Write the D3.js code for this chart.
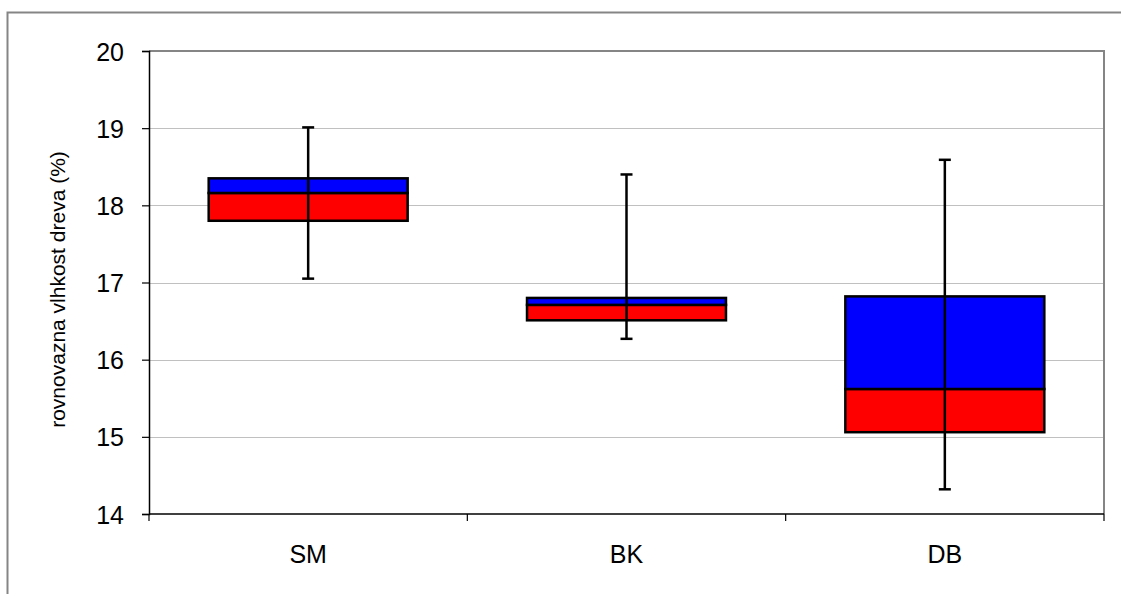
<!DOCTYPE html>
<html>
<head>
<meta charset="utf-8">
<script src="https://cdn.jsdelivr.net/npm/d3@7"></script>
<style>
	body { margin: 0; background: #fff; }
	svg text { font-family: Arial, "Liberation Sans", sans-serif; fill: #000; }
</style>
</head>
<body>
<script>
// Data
const categories = ["SM", "BK", "DB"];
const whiskerLow = [17.05, 16.27, 14.32];
const boxLow = [17.80, 16.51, 15.06];
const boxMid = [18.16, 16.71, 15.62];
const boxHigh = [18.35, 16.80, 16.82];
const whiskerHigh = [19.01, 18.40, 18.59];
const yTicks = [14, 15, 16, 17, 18, 19, 20];

const w = 1121;
const h = 594;
const plot = { left: 149, top: 51, right: 1104, bottom: 514 };

const svg = d3.select("body").append("svg").attr("width", w).attr("height", h);

// outer chart border
svg.append("rect")
	.attr("x", 7.5)
	.attr("y", 12.5)
	.attr("width", w + 20)
	.attr("height", h + 20)
	.attr("fill", "none")
	.attr("stroke", "#858585")
	.attr("stroke-width", 2);

const xScale = d3.scaleBand()
	.domain(categories)
	.range([plot.left, plot.right])
	.paddingInner(0)
	.paddingOuter(0);

const yScale = d3.scaleLinear().domain([14, 20]).range([plot.bottom, plot.top]);

// gridlines
svg.append("g")
	.selectAll("line")
	.data(yTicks.slice(1, -1))
	.enter()
	.append("line")
	.attr("x1", plot.left)
	.attr("x2", plot.right)
	.attr("y1", (d) => Math.round(yScale(d)) + 0.5)
	.attr("y2", (d) => Math.round(yScale(d)) + 0.5)
	.attr("stroke", "#c0c0c0")
	.attr("stroke-width", 1);

// plot frame top + right (gray)
svg.append("path")
	.attr("d", `M${plot.left},${plot.top} H${plot.right} V${plot.bottom}`)
	.attr("fill", "none")
	.attr("stroke", "#858585")
	.attr("stroke-width", 2);

// y axis
const yAxis = d3.axisLeft(yScale).tickValues(yTicks).tickSize(7).tickPadding(18).tickFormat(d3.format("d"));
const gy = svg.append("g").attr("transform", `translate(${plot.left}, 0)`).call(yAxis);
gy.attr("font-size", null).attr("font-family", null);
gy.select(".domain").attr("stroke", "#000").attr("stroke-width", 1.5);
gy.selectAll(".tick line").attr("stroke", "#000").attr("stroke-width", 1.2);
gy.selectAll(".tick text").style("font-size", "25px").attr("dy", "0.36em");

// x axis: ticks between categories
svg.append("line")
	.attr("x1", plot.left)
	.attr("x2", plot.right)
	.attr("y1", plot.bottom)
	.attr("y2", plot.bottom)
	.attr("stroke", "#000")
	.attr("stroke-width", 1.5);

const xEdges = categories.map((c) => xScale(c)).concat([xScale(categories[categories.length - 1]) + xScale.bandwidth()]);
svg.append("g")
	.selectAll("line")
	.data(xEdges)
	.enter()
	.append("line")
	.attr("x1", (d) => d)
	.attr("x2", (d) => d)
	.attr("y1", plot.bottom)
	.attr("y2", plot.bottom + 7)
	.attr("stroke", "#000")
	.attr("stroke-width", 1.2);

svg.append("g")
	.selectAll("text")
	.data(categories)
	.enter()
	.append("text")
	.attr("x", (d) => xScale(d) + xScale.bandwidth() / 2)
	.attr("y", 563)
	.attr("text-anchor", "middle")
	.style("font-size", "25px")
	.text((d) => d);

// y axis label
svg.append("text")
	.attr("transform", `translate(65, ${(plot.top + plot.bottom) / 2 + 7}) rotate(-90)`)
	.attr("text-anchor", "middle")
	.style("font-size", "21px")
	.text("rovnovazna vlhkost dreva (%)");

const boxW = xScale.bandwidth() * 0.625;
const cx = (i) => xScale(categories[i]) + xScale.bandwidth() / 2;

// boxes: red lower part, blue upper part
const boxes = svg.append("g");
categories.forEach((c, i) => {
	boxes.append("rect")
		.attr("x", cx(i) - boxW / 2)
		.attr("y", yScale(boxMid[i]))
		.attr("width", boxW)
		.attr("height", yScale(boxLow[i]) - yScale(boxMid[i]))
		.attr("fill", "#ff0000")
		.attr("stroke", "#000")
		.attr("stroke-width", 2.5);
	boxes.append("rect")
		.attr("x", cx(i) - boxW / 2)
		.attr("y", yScale(boxHigh[i]))
		.attr("width", boxW)
		.attr("height", yScale(boxMid[i]) - yScale(boxHigh[i]))
		.attr("fill", "#0000ff")
		.attr("stroke", "#000")
		.attr("stroke-width", 2.5);
});

// whiskers
const whiskers = svg.append("g").attr("stroke", "#000").attr("stroke-width", 2.5);
categories.forEach((c, i) => {
	whiskers.append("line")
		.attr("x1", cx(i))
		.attr("x2", cx(i))
		.attr("y1", yScale(whiskerHigh[i]))
		.attr("y2", yScale(whiskerLow[i]));
	[whiskerHigh[i], whiskerLow[i]].forEach((v) => {
		whiskers.append("line")
			.attr("x1", cx(i) - 6)
			.attr("x2", cx(i) + 6)
			.attr("y1", yScale(v))
			.attr("y2", yScale(v));
	});
});
</script>
</body>
</html>
